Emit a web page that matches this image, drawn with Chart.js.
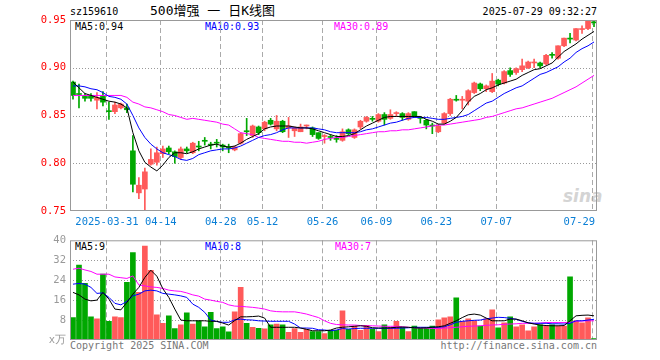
<!DOCTYPE html>
<html>
<head>
<meta charset="utf-8">
<script src="https://cdn.jsdelivr.net/npm/chart.js@4.4.1/dist/chart.umd.min.js"></script>
<style>
body { margin: 0; background: #fff; width: 660px; height: 360px; position: relative; overflow: hidden; font-family: "DejaVu Sans Mono", monospace; }
canvas { position: absolute; left: 0; }
.t { position: absolute; font-size: 10px; line-height: 12px; white-space: nowrap; }
</style>
</head>
<body>
<div class="t" style="left:70px;top:6px;color:#000">sz159610</div>
<div class="t" style="left:150px;top:3px;font-size:13px;line-height:16px;font-family:'DejaVu Sans Mono','Noto Sans CJK SC';color:#000">500增强 一 日K线图</div>
<div class="t" style="right:63px;top:6px;color:#000">2025-07-29 09:32:27</div>
<div class="t" style="left:75px;top:21px;color:#000">MA5:0.94</div>
<div class="t" style="left:205px;top:21px;color:#0000ff">MA10:0.93</div>
<div class="t" style="left:334px;top:21px;color:#ff00ff">MA30:0.89</div>
<div class="t" style="left:75px;top:241px;color:#000">MA5:9</div>
<div class="t" style="left:205px;top:241px;color:#0000ff">MA10:8</div>
<div class="t" style="left:335px;top:241px;color:#ff00ff">MA30:7</div>
<div class="t" style="left:70px;top:340px;color:#777">Copyright 2025 SINA.COM</div>
<div class="t" style="right:63px;top:340px;color:#777">http://finance.sina.com.cn</div>
<div class="t" style="left:563px;top:186px;font-size:17px;line-height:20px;font-style:italic;font-weight:bold;font-family:'DejaVu Sans';color:#d4d4d4">sina</div>
<canvas id="kChart" width="660" height="230" style="top:0"></canvas>
<canvas id="volChart" width="660" height="130" style="top:230px"></canvas>
<script>
// K-line chart for sz159610, daily candles + volume

const dates = [
    '03-21', '03-24', '03-25', '03-26', '03-27', '03-28', '03-31', '04-01', '04-02', '04-03',
    '04-07', '04-08', '04-09', '04-10', '04-11', '04-14', '04-15', '04-16', '04-17', '04-18',
    '04-21', '04-22', '04-23', '04-24', '04-25', '04-28', '04-29', '04-30', '05-06', '05-07',
    '05-08', '05-09', '05-12', '05-13', '05-14', '05-15', '05-16', '05-19', '05-20', '05-21',
    '05-22', '05-23', '05-26', '05-27', '05-28', '05-29', '05-30', '06-03', '06-04', '06-05',
    '06-06', '06-09', '06-10', '06-11', '06-12', '06-13', '06-16', '06-17', '06-18', '06-19',
    '06-20', '06-23', '06-24', '06-25', '06-26', '06-27', '06-30', '07-01', '07-02', '07-03',
    '07-04', '07-07', '07-08', '07-09', '07-10', '07-11', '07-14', '07-15', '07-16', '07-17',
    '07-18', '07-21', '07-22', '07-23', '07-24', '07-25', '07-28', '07-29'
];

// dates that get a label and a dashed grid line
const tickDates = ['03-31', '04-14', '04-28', '05-12', '05-26', '06-09', '06-23', '07-07', '07-29'];
const tickLabels = ['2025-03-31', '04-14', '04-28', '05-12', '05-26', '06-09', '06-23', '07-07', '07-29    '];

// dotted price / volume levels
const priceLevels = [0.80, 0.85, 0.90];
const volumeLevels = [8, 16, 24, 32];

const opens = [
    0.885, 0.873, 0.870, 0.870, 0.866, 0.870, 0.855, 0.854, 0.858, 0.858,
    0.813, 0.769, 0.773, 0.799, 0.801, 0.810, 0.816, 0.812, 0.806, 0.815,
    0.811, 0.818, 0.824, 0.820, 0.822, 0.819, 0.817, 0.814, 0.821, 0.834,
    0.829, 0.838, 0.836, 0.845, 0.836, 0.844, 0.837, 0.834, 0.833, 0.839,
    0.837, 0.832, 0.828, 0.828, 0.826, 0.824, 0.835, 0.827, 0.838, 0.844,
    0.847, 0.844, 0.851, 0.847, 0.852, 0.852, 0.846, 0.854, 0.848, 0.845,
    0.840, 0.833, 0.842, 0.852, 0.867, 0.866, 0.865, 0.874, 0.883, 0.878,
    0.875, 0.887, 0.884, 0.897, 0.895, 0.898, 0.900, 0.905, 0.905, 0.904,
    0.914, 0.910, 0.923, 0.931, 0.929, 0.940, 0.941, 0.948
];
const highs = [
    0.886, 0.883, 0.873, 0.873, 0.874, 0.875, 0.864, 0.864, 0.863, 0.862,
    0.829, 0.785, 0.795, 0.815, 0.817, 0.818, 0.818, 0.813, 0.817, 0.817,
    0.822, 0.823, 0.827, 0.822, 0.825, 0.820, 0.820, 0.818, 0.832, 0.847,
    0.840, 0.839, 0.844, 0.847, 0.850, 0.845, 0.848, 0.838, 0.841, 0.840,
    0.838, 0.832, 0.830, 0.830, 0.829, 0.836, 0.836, 0.836, 0.845, 0.849,
    0.849, 0.852, 0.853, 0.856, 0.854, 0.853, 0.853, 0.854, 0.849, 0.846,
    0.842, 0.841, 0.853, 0.868, 0.871, 0.870, 0.877, 0.885, 0.884, 0.882,
    0.894, 0.888, 0.897, 0.900, 0.900, 0.909, 0.907, 0.909, 0.906, 0.914,
    0.916, 0.923, 0.931, 0.936, 0.941, 0.944, 0.950, 0.950
];
const lows = [
    0.867, 0.858, 0.865, 0.865, 0.857, 0.860, 0.846, 0.852, 0.857, 0.853,
    0.770, 0.763, 0.750, 0.798, 0.798, 0.806, 0.810, 0.800, 0.804, 0.811,
    0.810, 0.813, 0.819, 0.815, 0.817, 0.813, 0.811, 0.813, 0.820, 0.829,
    0.827, 0.830, 0.834, 0.840, 0.834, 0.832, 0.827, 0.828, 0.833, 0.836,
    0.828, 0.825, 0.821, 0.824, 0.822, 0.823, 0.830, 0.826, 0.836, 0.843,
    0.844, 0.843, 0.840, 0.846, 0.849, 0.845, 0.845, 0.848, 0.842, 0.836,
    0.831, 0.832, 0.841, 0.850, 0.865, 0.857, 0.861, 0.873, 0.876, 0.875,
    0.874, 0.881, 0.883, 0.891, 0.893, 0.896, 0.899, 0.900, 0.900, 0.903,
    0.910, 0.909, 0.922, 0.926, 0.928, 0.936, 0.940, 0.943
];
const closes = [
    0.871, 0.872, 0.868, 0.868, 0.869, 0.864, 0.854, 0.861, 0.862, 0.856,
    0.778, 0.777, 0.791, 0.804, 0.811, 0.815, 0.812, 0.807, 0.815, 0.813,
    0.821, 0.817, 0.823, 0.819, 0.821, 0.817, 0.816, 0.817, 0.831, 0.833,
    0.839, 0.832, 0.843, 0.841, 0.844, 0.833, 0.839, 0.837, 0.838, 0.839,
    0.830, 0.826, 0.828, 0.827, 0.825, 0.833, 0.831, 0.835, 0.844, 0.848,
    0.846, 0.851, 0.846, 0.851, 0.852, 0.848, 0.852, 0.849, 0.847, 0.840,
    0.839, 0.839, 0.852, 0.867, 0.866, 0.867, 0.876, 0.884, 0.878, 0.881,
    0.886, 0.883, 0.896, 0.893, 0.899, 0.902, 0.906, 0.906, 0.902, 0.913,
    0.913, 0.923, 0.931, 0.930, 0.941, 0.941, 0.949, 0.947
];

const ma5 = [
    0.885, 0.879, 0.873, 0.871, 0.869, 0.867, 0.865, 0.864, 0.862, 0.858,
    0.832, 0.813, 0.801, 0.796, 0.792, 0.798, 0.806, 0.811, 0.811, 0.810,
    0.812, 0.815, 0.817, 0.819, 0.820, 0.818, 0.817, 0.818, 0.821, 0.825,
    0.828, 0.831, 0.836, 0.838, 0.839, 0.839, 0.839, 0.838, 0.837, 0.837,
    0.836, 0.834, 0.832, 0.830, 0.828, 0.828, 0.829, 0.831, 0.835, 0.839,
    0.842, 0.845, 0.848, 0.849, 0.849, 0.849, 0.849, 0.849, 0.849, 0.846,
    0.844, 0.841, 0.841, 0.844, 0.848, 0.855, 0.864, 0.870, 0.873, 0.877,
    0.879, 0.882, 0.884, 0.886, 0.888, 0.892, 0.895, 0.898, 0.899, 0.902,
    0.905, 0.911, 0.917, 0.921, 0.925, 0.930, 0.934, 0.938
];
const ma10 = [
    0.881, 0.881, 0.880, 0.878, 0.877, 0.874, 0.870, 0.869, 0.867, 0.862,
    0.850, 0.837, 0.827, 0.820, 0.815, 0.811, 0.809, 0.807, 0.804, 0.803,
    0.805, 0.809, 0.811, 0.813, 0.814, 0.815, 0.815, 0.816, 0.818, 0.821,
    0.824, 0.827, 0.829, 0.830, 0.832, 0.835, 0.837, 0.837, 0.837, 0.837,
    0.837, 0.836, 0.835, 0.833, 0.832, 0.832, 0.832, 0.832, 0.833, 0.835,
    0.836, 0.838, 0.840, 0.842, 0.843, 0.845, 0.847, 0.848, 0.848, 0.848,
    0.847, 0.846, 0.846, 0.847, 0.848, 0.849, 0.851, 0.855, 0.859, 0.863,
    0.865, 0.869, 0.873, 0.876, 0.879, 0.881, 0.885, 0.889, 0.893, 0.895,
    0.898, 0.901, 0.906, 0.910, 0.916, 0.920, 0.923, 0.927
];
const ma30 = [
    0.871, 0.871, 0.871, 0.871, 0.871, 0.871, 0.871, 0.871, 0.871, 0.869,
    0.864, 0.862, 0.859, 0.858, 0.856, 0.854, 0.851, 0.850, 0.848, 0.846,
    0.847, 0.846, 0.845, 0.844, 0.843, 0.841, 0.840, 0.836, 0.832, 0.831,
    0.830, 0.827, 0.826, 0.825, 0.824, 0.823, 0.823, 0.822, 0.822, 0.821,
    0.822, 0.823, 0.825, 0.826, 0.827, 0.827, 0.828, 0.829, 0.830, 0.831,
    0.832, 0.833, 0.833, 0.834, 0.834, 0.835, 0.835, 0.836, 0.837, 0.838,
    0.839, 0.840, 0.840, 0.841, 0.842, 0.843, 0.844, 0.845, 0.846, 0.848,
    0.849, 0.851, 0.853, 0.855, 0.857, 0.858, 0.860, 0.862, 0.864, 0.866,
    0.868, 0.871, 0.874, 0.877, 0.880, 0.884, 0.888, 0.892
];

// volume in 万
const volumes = [
    9.0, 30.1, 22.7, 9.3, 8.5, 26.4, 7.5, 9.3, 9.0, 23.1,
    35.1, 19.1, 37.7, 28.0, 10.1, 6.7, 9.7, 4.6, 6.1, 10.9,
    6.4, 7.7, 5.3, 11.1, 4.6, 5.3, 3.3, 11.3, 21.1, 6.7,
    5.1, 4.7, 4.5, 6.1, 6.4, 6.1, 3.1, 4.6, 3.1, 4.3,
    3.4, 3.4, 2.6, 3.9, 3.9, 11.7, 4.3, 5.6, 3.9, 5.9,
    4.3, 3.4, 6.1, 5.1, 7.5, 5.1, 3.4, 5.6, 4.8, 4.8,
    5.6, 8.1, 8.9, 9.3, 16.9, 7.5, 8.5, 7.7, 5.6, 8.5,
    12.1, 4.9, 6.9, 9.3, 5.3, 6.1, 3.7, 5.3, 6.1, 5.6,
    6.1, 5.6, 5.6, 25.3, 7.7, 6.9, 8.9, 0.6
];
const volMa5 = [
    19.1, 18.1, 16.4, 15.7, 16.0, 19.1, 16.4, 12.4, 12.1, 15.1,
    18.4, 21.1, 25.1, 28.0, 25.6, 20.6, 17.1, 12.4, 8.0, 7.7,
    7.7, 7.7, 7.7, 7.5, 7.5, 6.8, 6.0, 7.8, 9.3, 9.3,
    9.4, 9.6, 8.8, 5.1, 5.1, 5.1, 5.1, 5.1, 4.8, 4.3,
    3.7, 3.7, 3.7, 4.0, 4.8, 5.1, 5.3, 5.5, 5.7, 5.5,
    4.9, 4.8, 4.8, 4.9, 5.1, 5.2, 5.1, 4.9, 4.8, 4.9,
    5.1, 5.3, 5.7, 6.7, 7.7, 9.0, 10.1, 10.4, 10.0, 8.8,
    7.7, 7.7, 7.7, 8.4, 8.4, 7.7, 6.9, 6.4, 6.0, 5.8,
    5.7, 5.7, 5.8, 7.7, 9.7, 9.9, 10.0, 9.7
];
const volMa10 = [
    22.4, 22.7, 22.4, 21.1, 18.7, 18.9, 17.1, 14.7, 14.1, 15.5,
    17.7, 18.4, 19.7, 20.0, 19.7, 18.7, 18.4, 18.1, 17.7, 17.1,
    14.4, 13.1, 11.1, 8.0, 7.4, 7.1, 7.1, 8.1, 8.4, 8.1,
    8.0, 7.7, 7.6, 7.5, 7.5, 7.5, 7.5, 6.4, 4.8, 4.8,
    4.7, 4.1, 4.0, 3.7, 4.0, 4.6, 4.4, 4.6, 4.7, 4.7,
    4.7, 4.7, 4.7, 4.7, 4.7, 4.8, 4.9, 5.1, 5.1, 5.1,
    5.1, 5.1, 5.3, 6.1, 7.1, 7.5, 7.7, 7.9, 8.0, 8.5,
    8.8, 9.1, 9.0, 8.7, 8.3, 7.5, 6.9, 6.7, 6.7, 6.7,
    6.5, 6.5, 6.4, 6.7, 7.7, 7.7, 8.0, 8.3
];
const volMa30 = [
    28.4, 28.8, 28.1, 27.5, 26.4, 26.4, 26.4, 25.3, 25.0, 24.7,
    25.7, 22.1, 21.7, 21.3, 21.1, 20.7, 20.0, 19.7, 19.5, 18.9,
    18.1, 17.6, 16.4, 16.0, 15.5, 15.1, 14.1, 13.6, 13.5, 13.3,
    13.1, 12.8, 12.4, 11.7, 11.4, 11.3, 11.3, 11.3, 10.9, 10.4,
    9.7, 9.0, 7.7, 6.7, 6.2, 6.1, 6.0, 6.0, 5.8, 5.7,
    5.7, 5.6, 5.5, 5.5, 5.5, 5.3, 5.1, 4.9, 4.8, 4.8,
    4.6, 4.6, 4.8, 4.9, 5.1, 5.3, 5.5, 5.6, 5.7, 5.9,
    6.0, 6.1, 6.3, 6.4, 6.5, 6.7, 6.7, 6.7, 6.8, 7.0,
    7.0, 7.0, 7.0, 7.1, 7.5, 7.6, 7.7, 7.7
];

const UP = '#ff5a5a';
const DOWN = '#00a800';
const FONT = { family: 'DejaVu Sans Mono', size: 10.5 };
const BAR_W = 5;

const candleColors = opens.map((o, i) => closes[i] >= o ? UP : DOWN);
const tickIndex = tickDates.map(d => dates.indexOf(d));

// dashed date lines, dotted level lines and the grey frame
const gridPlugin = {
    id: 'klineGrid',
    beforeDatasetsDraw(chart, args, opts) {
        const { ctx, chartArea: a, scales: { x, y } } = chart;
        ctx.save();
        ctx.lineWidth = 1;
        ctx.strokeStyle = '#aaaaaa';
        ctx.setLineDash([5, 3]);
        tickIndex.forEach(i => {
            const px = Math.round(x.getPixelForValue(i) - BAR_W / 2) + 0.5;
            ctx.beginPath();
            ctx.moveTo(px, a.top);
            ctx.lineTo(px, a.bottom);
            ctx.stroke();
        });
        ctx.strokeStyle = '#999999';
        ctx.setLineDash([1, 2]);
        (opts.levels || []).forEach(v => {
            const py = Math.round(y.getPixelForValue(v)) + 0.5;
            ctx.beginPath();
            ctx.moveTo(a.left, py);
            ctx.lineTo(a.right, py);
            ctx.stroke();
        });
        ctx.restore();
    },
    afterDraw(chart) {
        const a = chart.chartArea;
        const ctx = chart.ctx;
        ctx.save();
        ctx.strokeStyle = '#999999';
        ctx.lineWidth = 1;
        ctx.strokeRect(a.left + 0.5, a.top + 0.5, a.right - a.left - 1, a.bottom - a.top - 1);
        ctx.restore();
    }
};

function maLine(data, color) {
    return {
        type: 'line',
        data: data,
        borderColor: color,
        borderWidth: 1,
        pointRadius: 0,
        tension: 0,
        fill: false,
        order: 0
    };
}

new Chart(document.getElementById('kChart'), {
    type: 'bar',
    data: {
        labels: dates,
        datasets: [
            maLine(ma5, '#000000'),
            maLine(ma10, '#0000ff'),
            maLine(ma30, '#ff00ff'),
            {
                // candle bodies
                data: dates.map((d, i) => [opens[i], closes[i]]),
                backgroundColor: candleColors,
                barThickness: BAR_W,
                minBarLength: 1,
                grouped: false,
                order: 1
            },
            {
                // wicks
                data: dates.map((d, i) => [lows[i], highs[i]]),
                backgroundColor: candleColors,
                barThickness: 1,
                grouped: false,
                order: 2
            }
        ]
    },
    options: {
        responsive: false,
        animation: false,
        events: [],
        layout: { padding: { left: 0, right: 63, top: 20, bottom: 0 } },
        plugins: {
            legend: { display: false },
            tooltip: { enabled: false },
            klineGrid: { levels: priceLevels }
        },
        scales: {
            x: {
                offset: true,
                grid: { display: false, drawTicks: false },
                border: { display: false },
                ticks: {
                    autoSkip: false,
                    maxRotation: 0,
                    minRotation: 0,
                    color: '#0a7fd6',
                    font: FONT,
                    padding: 5,
                    labelOffset: -2,
                    callback: (v, i) => {
                        const k = tickIndex.indexOf(i);
                        return k >= 0 ? tickLabels[k] : '';
                    }
                },
                afterFit: s => { s.height = 19; }
            },
            y: {
                min: 0.75,
                max: 0.95,
                grid: { display: false, drawTicks: false },
                border: { display: false },
                ticks: {
                    stepSize: 0.05,
                    color: '#ff0000',
                    font: FONT,
                    padding: 4,
                    callback: v => v.toFixed(2)
                },
                afterFit: s => { s.width = 70; }
            }
        }
    },
    plugins: [gridPlugin]
});

new Chart(document.getElementById('volChart'), {
    type: 'bar',
    data: {
        labels: dates,
        datasets: [
            maLine(volMa5, '#000000'),
            maLine(volMa10, '#0000ff'),
            maLine(volMa30, '#ff00ff'),
            {
                data: volumes,
                backgroundColor: candleColors,
                barThickness: BAR_W,
                grouped: false,
                order: 1
            }
        ]
    },
    options: {
        responsive: false,
        animation: false,
        events: [],
        layout: { padding: { left: 0, right: 63, top: 10, bottom: 20 } },
        plugins: {
            legend: { display: false },
            tooltip: { enabled: false },
            klineGrid: { levels: volumeLevels }
        },
        scales: {
            x: {
                offset: true,
                grid: { display: false, drawTicks: false },
                border: { display: false },
                ticks: { display: false, autoSkip: false },
                afterFit: s => { s.height = 0; }
            },
            y: {
                min: 0,
                max: 40,
                grid: { display: false, drawTicks: false },
                border: { display: false },
                ticks: {
                    stepSize: 8,
                    color: '#999999',
                    font: FONT,
                    padding: 4,
                    callback: v => v === 0 ? 'x万' : v
                },
                afterFit: s => { s.width = 70; }
            }
        }
    },
    plugins: [gridPlugin]
});
</script>
</body>
</html>
